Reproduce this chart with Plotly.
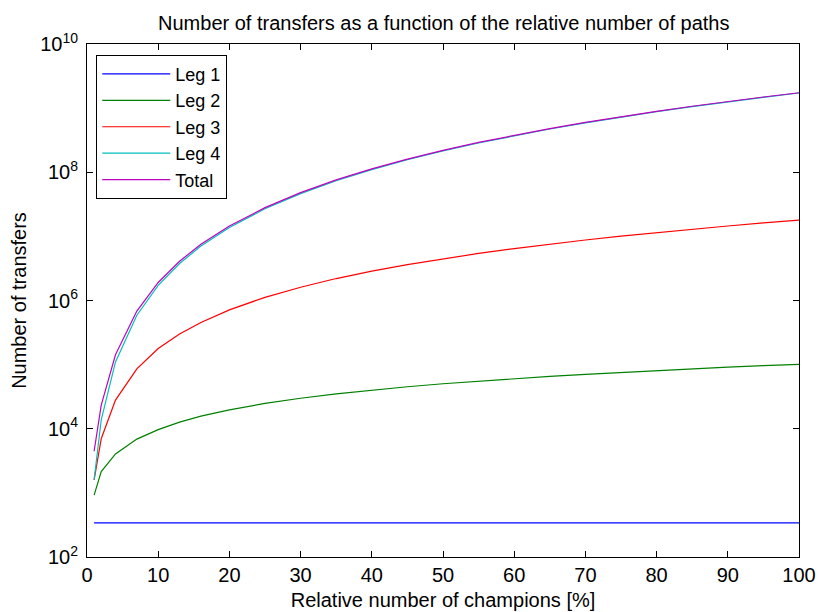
import numpy as np
import plotly.graph_objects as go

# Relative number of champions [%]
champions_pct = [1, 2, 4, 7, 10, 13, 16, 20, 25, 30, 35, 40, 45, 50,
                 55, 60, 65, 70, 75, 80, 85, 90, 95, 100]

# Number of transfers per leg
leg1 = [340, 340, 340, 340, 340, 340, 340, 340, 340, 340, 340, 340,
        340, 340, 340, 340, 340, 340, 340, 340, 340, 340, 340, 340]
leg2 = [920, 2150, 4050, 6900, 9700, 12700, 15700, 19700, 24800, 29900,
        35000, 40100, 45200, 50300, 55400, 60500, 65600, 70700, 75800,
        80900, 86000, 91100, 96200, 101000]
leg3 = [1600, 7000, 28000, 86000, 178000, 300000, 455000, 715000,
        1.12e6, 1.61e6, 2.2e6, 2.87e6, 3.63e6, 4.48e6, 5.42e6, 6.45e6,
        7.57e6, 8.78e6, 1.008e7, 1.147e7, 1.295e7, 1.452e7, 1.618e7, 1.79e7]
leg4 = [1600, 13800, 110000, 590000, 1.72e6, 3.78e6, 7.05e6, 1.376e7,
        2.69e7, 4.64e7, 7.37e7, 1.10e8, 1.567e8, 2.15e8, 2.86e8, 3.72e8,
        4.72e8, 5.9e8, 7.26e8, 8.81e8, 1.056e9, 1.254e9, 1.475e9, 1.72e9]

# Total is the sum over all legs
total = (np.array(leg1) + np.array(leg2) + np.array(leg3) + np.array(leg4)).tolist()

series_names = ["Leg 1", "Leg 2", "Leg 3", "Leg 4", "Total"]
series_values = [leg1, leg2, leg3, leg4, total]
series_colors = ["#0000ff", "#008000", "#ff0000", "#00bfbf", "#bf00bf"]

y_tickvals = [1e2, 1e4, 1e6, 1e8, 1e10]
y_ticktext = ["10<sup>2</sup>", "10<sup>4</sup>", "10<sup>6</sup>",
              "10<sup>8</sup>", "10<sup>10</sup>"]
x_tickvals = [0, 10, 20, 30, 40, 50, 60, 70, 80, 90, 100]

FONT = "Liberation Sans, Arial, Helvetica, sans-serif"
TXT = 20

fig = go.Figure()
for name, vals, color in zip(series_names, series_values, series_colors):
    fig.add_trace(go.Scatter(
        x=champions_pct, y=vals, name=name, mode="lines",
        line=dict(color=color, width=1.2),
    ))

axis_common = dict(
    showline=True, linecolor="black", linewidth=1, mirror="allticks",
    ticks="inside", ticklen=6, tickcolor="black", tickwidth=1,
    showgrid=False, zeroline=False, automargin=False,
    tickfont=dict(family=FONT, size=TXT, color="black"),
)

fig.update_xaxes(
    range=[0, 100], tickvals=x_tickvals,
    title=dict(text="Relative number of champions [%]",
               font=dict(family=FONT, size=TXT, color="black"), standoff=7),
    **axis_common,
)
fig.update_yaxes(
    type="log", range=[2, 10], tickvals=y_tickvals, ticktext=y_ticktext,
    ticklabelstandoff=4,
    title=dict(text="Number of transfers",
               font=dict(family=FONT, size=TXT, color="black"), standoff=8),
    **axis_common,
)

fig.update_layout(
    width=818, height=612,
    margin=dict(l=87, r=19, t=44, b=55),
    paper_bgcolor="white", plot_bgcolor="white",
    title=dict(text="Number of transfers as a function of the relative number of paths",
               x=0.5425, xanchor="center", y=0.963, yanchor="middle",
               font=dict(family=FONT, size=TXT, color="black")),
    legend=dict(
        x=0.013, y=0.979, xanchor="left", yanchor="top",
        bgcolor="white", bordercolor="black", borderwidth=1,
        font=dict(family=FONT, size=18, color="black"),
        itemwidth=68, tracegroupgap=0,
    ),
    showlegend=True,
)

fig.write_html("out.html")
